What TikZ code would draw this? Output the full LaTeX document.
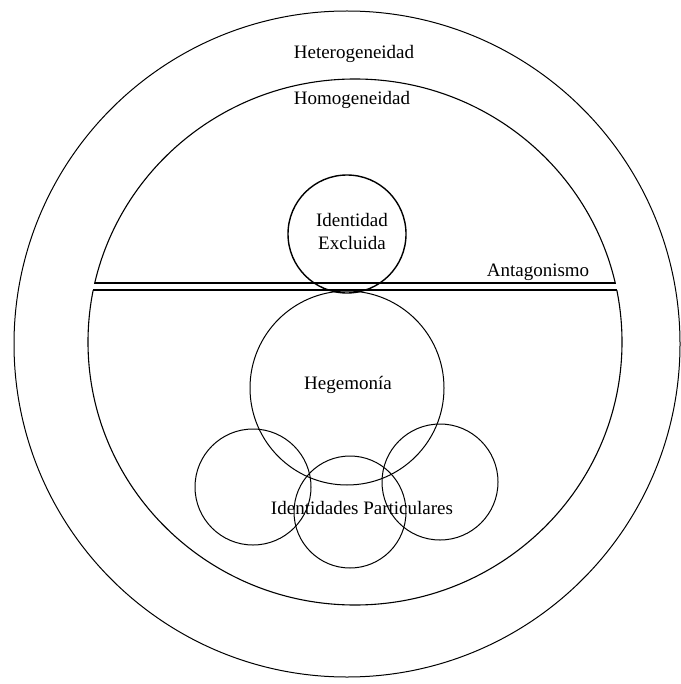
\documentclass[tikz,border=0pt]{standalone}
\usepackage{fontspec}
\setmainfont{Liberation Serif}
\begin{document}
\begin{tikzpicture}[x=0.5pt,y=-0.5pt,
  lbl/.style={font=\fontsize{9.5}{11.5}\selectfont, inner sep=0pt, align=center},
  ring/.style={draw, circle, inner sep=0pt, line width=0.5pt},
  thin/.style={line width=0.55pt}]
\useasboundingbox (0,0) rectangle (680,684);
% outer circle
\node[ring, minimum size=666pt*0.5] (outer) at (347,344) {};
% inner (homogeneidad) circle split by antagonism
\coordinate (ic) at (355,342);
\begin{scope}
  \clip (0,0) rectangle (680,283);
  \draw[thin] (ic) ellipse [x radius=133.5pt, y radius=131.5pt];
\end{scope}
\begin{scope}
  \clip (0,290) rectangle (680,684);
  \draw[thin] (ic) ellipse [x radius=133.5pt, y radius=131.5pt];
\end{scope}
\coordinate (a1) at (94.8,283);
\coordinate (a2) at (615.2,283);
\coordinate (b1) at (93.0,290);
\coordinate (b2) at (617.0,290);
\draw[line width=0.7pt] (a1) -- (a2);
\draw[line width=1.4pt] (b1) -- (b2);
% circles
\node[ring, line width=0.7pt, minimum size=59pt] (excl) at (347,234) {};
\node[ring, minimum size=97pt] (heg) at (347,388) {};
\node[ring, minimum size=58pt] (pl) at (253,487) {};
\node[ring, minimum size=56pt] (pm) at (350,512) {};
\node[ring, minimum size=58pt] (pr) at (440,482) {};
% labels
\node[lbl] (thet) at (354,54) {Heterogeneidad};
\node[lbl] (thom) at (352,100) {Homogeneidad};
\node[lbl] (tant) at (538,272) {Antagonismo};
\node[lbl] (texc) at (352,232) {Identidad\\Excluida};
\node[lbl] (theg) at (348,385) {Hegemonía};
\node[lbl] (tpar) at (362,508) {Identidades Particulares};
\end{tikzpicture}
\end{document}
